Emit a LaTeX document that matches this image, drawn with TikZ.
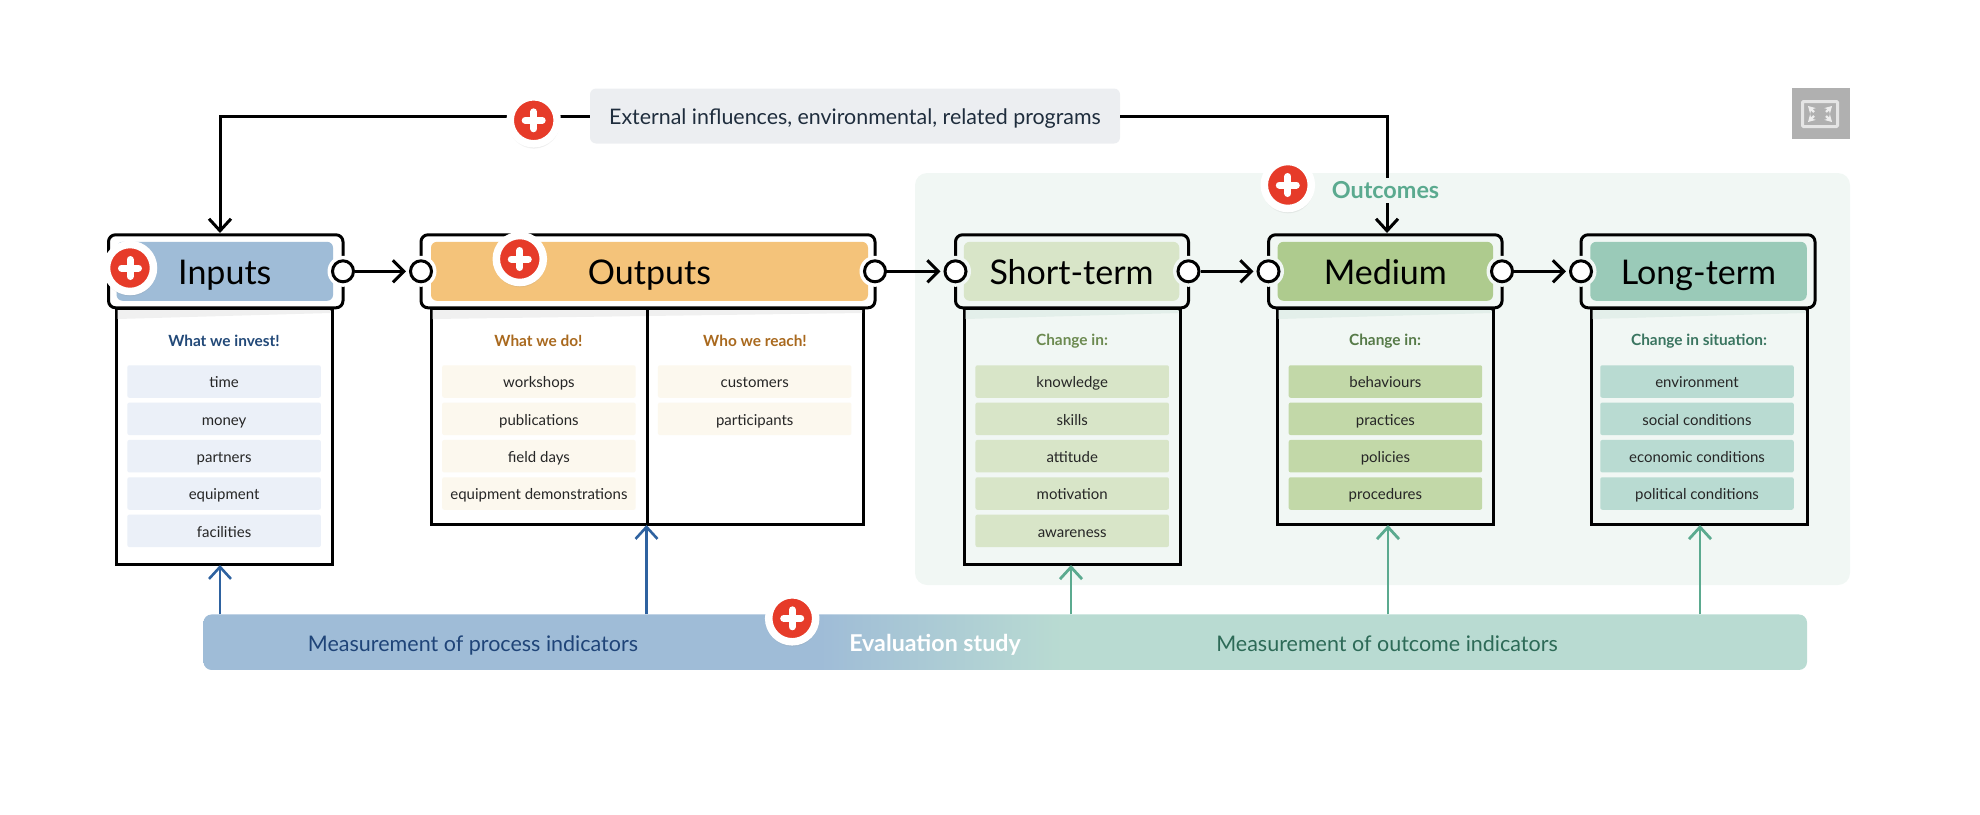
\documentclass[tikz,border=0pt]{standalone}
\usepackage{fontspec}
\setmainfont{Lato}
\usetikzlibrary{arrows.meta,shadows}

\definecolor{barblue}{HTML}{9FBCD7}
\definecolor{bargreen}{HTML}{B9DBD2}
\definecolor{regiontint}{HTML}{F1F7F4}
\definecolor{linkgreen}{HTML}{5BAA8F}
\definecolor{linkblue}{HTML}{2E62A0}
\definecolor{plusred}{HTML}{E63B29}
\definecolor{inputtint}{HTML}{EBF0F8}
\definecolor{outputtone}{HTML}{F4C37A}
\definecolor{outputtint}{HTML}{FCF8EE}
\definecolor{outputtext}{HTML}{A9691E}
\definecolor{shorttone}{HTML}{D8E5C8}
\definecolor{mediumtone}{HTML}{AECB8E}
\definecolor{mediumtint}{HTML}{C2D8A8}
\definecolor{longtone}{HTML}{9ACAB8}
\definecolor{underhead}{HTML}{E3EFEA}
\pgfdeclarehorizontalshading{evalfade}{100bp}{color(0bp)=(barblue); color(44.2bp)=(barblue); color(51.8bp)=(bargreen); color(100bp)=(bargreen)}

\tikzset{
  headbox/.style={draw=black,line width=3,rounded corners=7,fill=white,minimum height=73,inner sep=0},
  headbar/.style={rounded corners=6,minimum height=59,inner sep=0,font=\fontsize{34}{38}\selectfont,text height=27,text depth=0},
  bodybox/.style={draw=black,line width=3,inner sep=0},
  title/.style={font=\fontsize{15.4}{18}\bfseries\selectfont},
  item/.style={rounded corners=2,minimum width=193.5,minimum height=32.5,inner sep=0,font=\fontsize{15}{18}\selectfont,text height=12.5,text depth=0,text=black!85},
  port/.style={circle,draw=black,line width=3,fill=white,minimum size=21,inner sep=0},
  halo/.style={circle,fill=white,minimum size=31,inner sep=0},
  flow/.style={draw=black,line width=3,shorten >=3pt,-{Straight Barb[length=11pt,width=22pt,line width=3pt]}},
  feed/.style={draw=black,line width=3,-{Straight Barb[length=12pt,width=22pt,line width=3pt]}},
  bluelink/.style={draw=linkblue,line width=2.6,-{Straight Barb[length=12pt,width=22pt,line width=2.6pt]}},
  greenlink/.style={draw=linkgreen,line width=2.8,-{Straight Barb[length=12pt,width=22pt,line width=2.8pt]}},
  barlabel/.style={font=\fontsize{21.5}{26}\selectfont,text height=16,text depth=0},
  plusmark/.style={circle,draw=white,line width=7.5,fill=plusred,minimum size=47,inner sep=0,
    circular drop shadow={shadow xshift=0pt,shadow yshift=-2pt,shadow scale=1.12,opacity=.35},
    path picture={\draw[white,line width=7,line cap=round] (-8.5,0) -- (8.5,0) (0,-8.5) -- (0,8.5);}},
}

\begin{document}
\begin{tikzpicture}[x=1pt,y=-1pt]
\useasboundingbox (0,0) rectangle (1980,814);

% Outcomes region
\node[fill=regiontint,rounded corners=12,minimum width=935,minimum height=412,inner sep=0] (outcomeregion) at (1382.5,379) {};

% External influences
\node[fill={rgb,255:red,236;green,238;blue,241},rounded corners=6,minimum width=530,minimum height=55,inner sep=0,font=\fontsize{21.4}{26}\selectfont,text={rgb,255:red,31;green,45;blue,61},text height=16,text depth=0] (external) at (855,116) {External influences, environmental, related programs};
\coordinate (inputstop) at (220,233);
\coordinate (mediumtop) at (1387,233);
\draw[feed] (external.west) -| (inputstop);
\draw[feed] (external.east) -| (mediumtop);
\node[fill=regiontint,inner sep=0,minimum height=25,font=\fontsize{23.4}{26}\bfseries\selectfont,text=linkgreen] (outcomeslabel) at (1385.5,190) {Outcomes};

% Inputs column
\node[bodybox,fill=white,minimum width=216,minimum height=255] (inputsbody) at (224,436.5) {};
\fill[black!6] (117.5,310) -- (330.5,310) -- (330.5,313) -- (117.5,319) -- cycle;
\node[headbox,minimum width=234.5] (inputshead) at (225.75,271.3) {};
\node[headbar,fill=barblue,minimum width=216.5] (inputsbar) at (224.8,271.3) {Inputs};
\node[title,text=linkblue!75!black] (inputstitle) at (224,341) {What we invest!};
\node[item,fill=inputtint] (time) at (224.1,381.5) {time};
\node[item,fill=inputtint] (money) at (224.1,418.8) {money};
\node[item,fill=inputtint] (partners) at (224.1,456.2) {partners};
\node[item,fill=inputtint] (equipment) at (224.1,493.5) {equipment};
\node[item,fill=inputtint] (facilities) at (224.1,530.8) {facilities};

% Outputs column
\node[bodybox,fill=white,minimum width=432.5,minimum height=215] (outputsbody) at (647.25,416.5) {};
\fill[black!6] (432.5,310) -- (862,310) -- (862,313) -- (432.5,319) -- cycle;
\draw[black,line width=3] (outputsbody.north) -- (outputsbody.south);
\node[headbox,minimum width=454] (outputshead) at (648,271.3) {};
\node[headbar,fill=outputtone,minimum width=437] (outputsbar) at (649.5,271.3) {Outputs};
\node[title,text=outputtext] (dotitle) at (538.5,341) {What we do!};
\node[title,text=outputtext] (reachtitle) at (755,341) {Who we reach!};
\node[item,fill=outputtint] (workshops) at (538.9,381.5) {workshops};
\node[item,fill=outputtint] (publications) at (538.9,418.8) {publications};
\node[item,fill=outputtint] (fielddays) at (538.9,456.2) {field days};
\node[item,fill=outputtint] (demonstrations) at (538.9,493.5) {equipment demonstrations};
\node[item,fill=outputtint] (customers) at (754.7,381.5) {customers};
\node[item,fill=outputtint] (participants) at (754.7,418.8) {participants};

% Short-term column
\node[bodybox,minimum width=216,minimum height=255] (shortbody) at (1072,436.5) {};
\fill[underhead] (965.5,310) -- (1178.5,310) -- (1178.5,313) -- (965.5,319) -- cycle;
\node[headbox,fill=regiontint,minimum width=233] (shorthead) at (1072,271.3) {};
\node[headbar,fill=shorttone,minimum width=215.5] (shortbar) at (1071.5,271.3) {Short-term};
\node[title,text={rgb,255:red,108;green,138;blue,80}] (shorttitle) at (1072,341) {Change in:};
\node[item,fill=shorttone] (knowledge) at (1072.2,381.5) {knowledge};
\node[item,fill=shorttone] (skills) at (1072.2,418.8) {skills};
\node[item,fill=shorttone] (attitude) at (1072.2,456.2) {attitude};
\node[item,fill=shorttone] (motivation) at (1072.2,493.5) {motivation};
\node[item,fill=shorttone] (awareness) at (1072.2,530.8) {awareness};

% Medium column
\node[bodybox,minimum width=216,minimum height=215] (mediumbody) at (1385,416.5) {};
\fill[underhead] (1278.5,310) -- (1491.5,310) -- (1491.5,313) -- (1278.5,319) -- cycle;
\node[headbox,fill=regiontint,minimum width=233.5] (mediumhead) at (1385.3,271.3) {};
\node[headbar,fill=mediumtone,minimum width=215.5] (mediumbar) at (1385.3,271.3) {Medium};
\node[title,text={rgb,255:red,86;green,122;blue,72}] (mediumtitle) at (1385,341) {Change in:};
\node[item,fill=mediumtint] (behaviours) at (1385.4,381.5) {behaviours};
\node[item,fill=mediumtint] (practices) at (1385.4,418.8) {practices};
\node[item,fill=mediumtint] (policies) at (1385.4,456.2) {policies};
\node[item,fill=mediumtint] (procedures) at (1385.4,493.5) {procedures};

% Long-term column
\node[bodybox,minimum width=216,minimum height=215] (longbody) at (1699,416.5) {};
\fill[underhead] (1592.5,310) -- (1805.5,310) -- (1805.5,313) -- (1592.5,319) -- cycle;
\node[headbox,fill=regiontint,minimum width=234] (longhead) at (1698,271.3) {};
\node[headbar,fill=longtone,minimum width=216.5] (longbar) at (1698.5,271.3) {Long-term};
\node[title,text={rgb,255:red,58;green,117;blue,96}] (longtitle) at (1699,341) {Change in situation:};
\node[item,fill=bargreen] (environment) at (1697,381.5) {environment};
\node[item,fill=bargreen] (social) at (1697,418.8) {social conditions};
\node[item,fill=bargreen] (economic) at (1697,456.2) {economic conditions};
\node[item,fill=bargreen] (political) at (1697,493.5) {political conditions};

% Ports between the heads
\node[halo] (inputshalo) at (343,271.3) {};
\node[halo] (outputshaloin) at (421,271.3) {};
\node[halo] (outputshaloout) at (875,271.3) {};
\node[halo,fill=regiontint] (shorthaloin) at (955.5,271.3) {};
\node[halo,fill=regiontint] (shorthaloout) at (1188.5,271.3) {};
\node[halo,fill=regiontint] (mediumhaloin) at (1268.5,271.3) {};
\node[halo,fill=regiontint] (mediumhaloout) at (1502,271.3) {};
\node[halo,fill=regiontint] (longhaloin) at (1581,271.3) {};
\node[port] (inputsout) at (343,271.3) {};
\node[port] (outputsin) at (421,271.3) {};
\node[port] (outputsout) at (875,271.3) {};
\node[port] (shortin) at (955.5,271.3) {};
\node[port] (shortout) at (1188.5,271.3) {};
\node[port] (mediumin) at (1268.5,271.3) {};
\node[port] (mediumout) at (1502,271.3) {};
\node[port] (longin) at (1581,271.3) {};
\draw[flow] (inputsout) -- (outputsin);
\draw[flow] (outputsout) -- (shortin);
\draw[flow] (shortout) -- (mediumin);
\draw[flow] (mediumout) -- (longin);

% Evaluation study
\node[shade,shading=evalfade,rounded corners=8,minimum width=1603.5,minimum height=55.5,inner sep=0] (evalbar) at (1005.25,642.2) {};
\node[barlabel,text={rgb,255:red,31;green,68;blue,120}] (processlabel) at (473,643) {Measurement of process indicators};
\node[barlabel,font=\fontsize{23.2}{26}\bfseries\selectfont,text=white] (evallabel) at (935,643) {Evaluation study};
\node[barlabel,text={rgb,255:red,45;green,106;blue,87}] (outcomelabel) at (1387,643) {Measurement of outcome indicators};
\coordinate (inputsfoot) at (220,565);
\coordinate (outputsfoot) at (646.5,525);
\coordinate (shortfoot) at (1071,565);
\coordinate (mediumfoot) at (1388,525);
\coordinate (longfoot) at (1700,525);
\draw[bluelink] (evalbar.north -| inputsfoot) -- (inputsfoot);
\draw[bluelink] (evalbar.north -| outputsfoot) -- (outputsfoot);
\draw[greenlink] (evalbar.north -| shortfoot) -- (shortfoot);
\draw[greenlink] (evalbar.north -| mediumfoot) -- (mediumfoot);
\draw[greenlink] (evalbar.north -| longfoot) -- (longfoot);

% Plus marks
\node[plusmark] (plusexternal) at (533.7,120.3) {};
\node[plusmark] (plusinputs) at (130,268) {};
\node[plusmark] (plusoutputs) at (519.8,259) {};
\node[plusmark] (plusoutcomes) at (1287.8,185) {};
\node[plusmark] (plusevaluation) at (792.2,618.3) {};

% Fullscreen icon
\node[fill=black!31,minimum width=58,minimum height=51,inner sep=0] (fullscreen) at (1821,113.2) {};
\node[draw=black!10,line width=3,rounded corners=1,minimum width=35,minimum height=25,inner sep=0] (fullscreenframe) at (1820,114) {};
\draw[black!7,line width=2.4,-{Stealth[length=7pt,width=8pt]}] (1814,112) -- (1808,106);
\draw[black!7,line width=2.4,-{Stealth[length=7pt,width=8pt]}] (1826,112) -- (1832,106);
\draw[black!7,line width=2.4,-{Stealth[length=7pt,width=8pt]}] (1814,116) -- (1808,122);
\draw[black!7,line width=2.4,-{Stealth[length=7pt,width=8pt]}] (1826,116) -- (1832,122);
\end{tikzpicture}
\end{document}
